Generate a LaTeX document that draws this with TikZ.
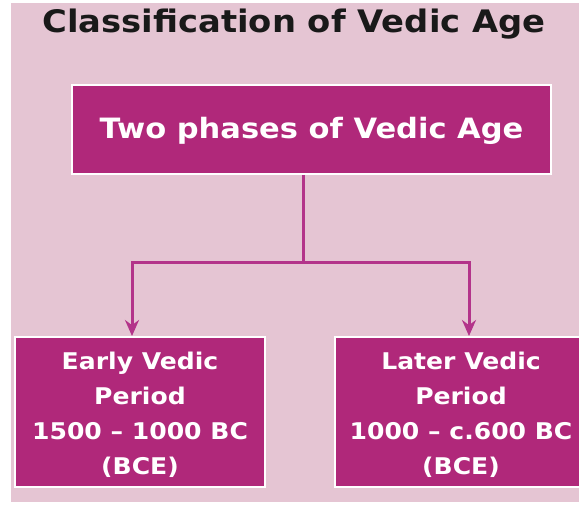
\documentclass[tikz,border=0pt]{standalone}
\usepackage{fontspec}
\setmainfont[FakeStretch=1.09]{DejaVu Sans}
\usetikzlibrary{arrows.meta}
\definecolor{bgpink}{HTML}{E5C5D3}
\definecolor{boxpurple}{HTML}{B0287A}
\definecolor{linepurple}{HTML}{B3348A}
\tikzset{
  phasebox/.style={draw=white, line width=2pt, fill=boxpurple, text=white,
    font=\bfseries, inner sep=0pt, align=center},
  conn/.style={draw=linepurple, line width=3pt, line join=miter},
  arr/.style={conn, -{Stealth[length=16pt, width=14pt]}},
}
\begin{document}
\begin{tikzpicture}[x=1pt, y=-1pt]
\useasboundingbox (0,0) rectangle (579,505);
\fill[bgpink] (11,3) rectangle (579,502);
\node[font=\bfseries\fontsize{31}{34}\selectfont, text=black!90] (title) at (294,24) {Classification of Vedic Age};
\node[phasebox, minimum width=479pt, minimum height=89pt,
  font=\bfseries\fontsize{28}{32}\selectfont] (top) at (311.5,129.5) {\rule{0pt}{25pt}Two phases of Vedic Age};
\node[phasebox, minimum width=250pt, minimum height=150pt,
  font=\bfseries\fontsize{23}{35}\selectfont] (early) at (140,412)
  {\rule{0pt}{23.5pt}Early Vedic\\Period\\1500 – 1000 BC\\(BCE)};
\node[phasebox, minimum width=252pt, minimum height=150pt,
  font=\bfseries\fontsize{23}{35}\selectfont] (later) at (461,412)
  {\rule{0pt}{23.5pt}Later Vedic\\Period\\1000 – c.600 BC\\(BCE)};
\coordinate (split) at (303,263);
\coordinate (lc) at (132,263);
\coordinate (rc) at (469,263);
\draw[conn] (top.south -| split) -- (split);
\draw[arr] (split) -- (lc) -- (lc |- early.north);
\draw[arr] (split) -- (rc) -- (rc |- later.north);
\end{tikzpicture}
\end{document}
